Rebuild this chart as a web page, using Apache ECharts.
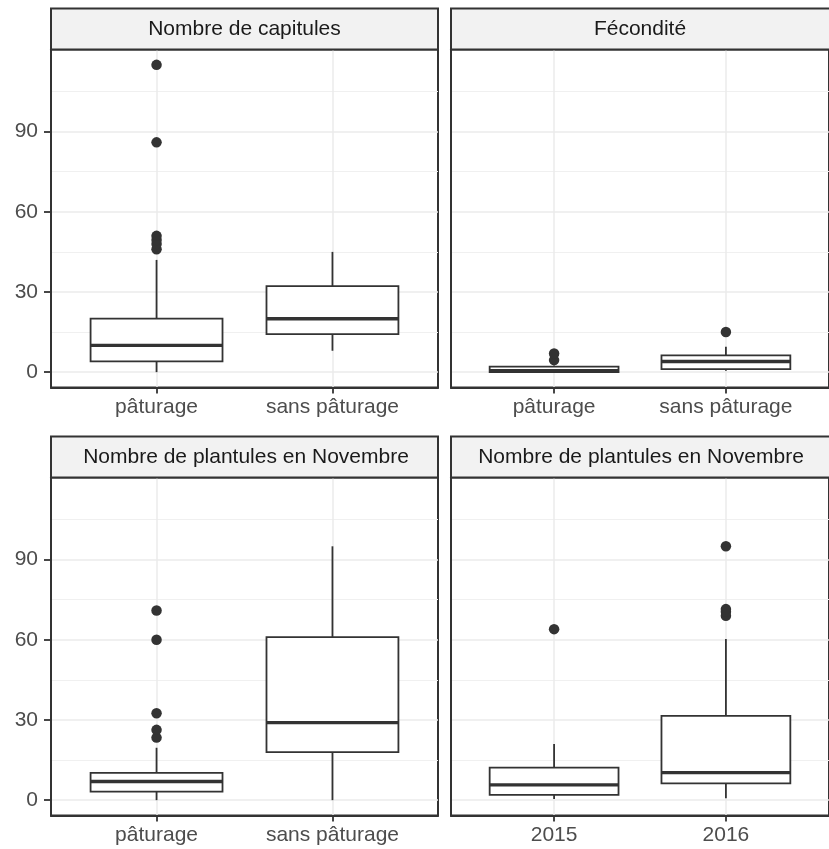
<!DOCTYPE html>
<html>
<head>
<meta charset="utf-8">
<script src="https://cdn.jsdelivr.net/npm/echarts@6/dist/echarts.min.js"></script>
<style>html,body{margin:0;padding:0;background:#fff;}#c{width:829px;height:849px;}</style>
</head>
<body>
<div id="c"></div>
<script>
// ---- data ----
const panelTitles = ['Nombre de capitules', 'Fécondité', 'Nombre de plantules en Novembre', 'Nombre de plantules en Novembre'];
const catsGrazing = ['pâturage', 'sans pâturage'];
const catsYear = ['2015', '2016'];
// box stats: [lower whisker, Q1, median, Q3, upper whisker]
const capitulesBox = [[0, 4, 10, 20, 42], [8, 14.2, 20, 32.2, 45]];
const capitulesOut = [[46, 48, 49.5, 51, 86, 115], []];
const fecondBox = [[0, 0, 0.5, 2.1, 2.5], [0.5, 1.1, 4, 6.3, 9.5]];
const fecondOut = [[4.5, 7], [15]];
const plantGrazBox = [[0, 3.2, 7, 10.2, 19.6], [0, 18, 29, 61, 95]];
const plantGrazOut = [[23.4, 26.3, 32.5, 60, 71], []];
const plantYearBox = [[0.4, 2, 5.7, 12.2, 21], [0.7, 6.3, 10.3, 31.5, 60.3]];
const plantYearOut = [[64], [69, 70.5, 71.5, 95]];
const yTicks = [0, 30, 60, 90];
const yMinor = [15, 45, 75, 105];
const xTicks = [0, 1];

// ---- layout ----
const FONT = 'Liberation Sans, Arial, sans-serif';
const FS = 21;
const panels = [
  { left: 51, top: 49.5, cats: catsGrazing, box: capitulesBox, out: capitulesOut, showY: true, tx: 244.5 },
  { left: 451, top: 49.5, cats: catsGrazing, box: fecondBox, out: fecondOut, showY: false, tx: 640 },
  { left: 51, top: 477.5, cats: catsGrazing, box: plantGrazBox, out: plantGrazOut, showY: true, tx: 246 },
  { left: 451, top: 477.5, cats: catsYear, box: plantYearBox, out: plantYearOut, showY: false, tx: 641 }
];
const PW = 387, PH = 338, STRIP = 41;

const grids = [], xAxes = [], yAxes = [], series = [], graphics = [];

function renderBox(params, api) {
  const x = api.value(0);
  const lo = api.coord([x, api.value(1)]);
  const q1 = api.coord([x, api.value(2)]);
  const md = api.coord([x, api.value(3)]);
  const q3 = api.coord([x, api.value(4)]);
  const hi = api.coord([x, api.value(5)]);
  const hw = api.size([0.75, 0])[0] / 2;
  const ls = { stroke: '#333', lineWidth: 1.8 };
  return {
    type: 'group',
    children: [
      { type: 'line', shape: { x1: lo[0], y1: lo[1], x2: q1[0], y2: q1[1] }, style: ls },
      { type: 'line', shape: { x1: q3[0], y1: q3[1], x2: hi[0], y2: hi[1] }, style: ls },
      { type: 'rect', shape: { x: q3[0] - hw, y: q3[1], width: 2 * hw, height: q1[1] - q3[1] },
        style: { fill: '#fff', stroke: '#333', lineWidth: 1.8 } },
      { type: 'line', shape: { x1: md[0] - hw, y1: md[1], x2: md[0] + hw, y2: md[1] },
        style: { stroke: '#333', lineWidth: 3.4 } }
    ]
  };
}

panels.forEach((p, i) => {
  grids.push({ left: p.left, top: p.top, width: PW, height: PH, show: true,
    borderColor: '#333', borderWidth: 2, backgroundColor: '#fff', containLabel: false });
  const cats = p.cats;
  xAxes.push({
    type: 'value', gridIndex: i, min: -0.6, max: 1.6, position: 'bottom',
    axisLine: { show: true, onZero: false, lineStyle: { color: '#333', width: 2 } },
    axisTick: { show: true, inside: false, customValues: xTicks, length: 6, lineStyle: { color: '#333', width: 1.8 } },
    axisLabel: { show: true, customValues: xTicks, margin: 9, color: '#4D4D4D', fontSize: FS, fontFamily: FONT,
      formatter: v => cats[Math.round(v)] },
    splitLine: { show: true, lineStyle: { color: '#EBEBEB', width: 1.5 } }
  });
  yAxes.push({
    type: 'value', gridIndex: i, min: -5.75, max: 120.75, position: 'left',
    axisLine: { show: true, onZero: false, lineStyle: { color: '#333', width: 2 } },
    axisTick: { show: p.showY, inside: false, customValues: yTicks, length: 7, lineStyle: { color: '#333', width: 1.8 } },
    axisLabel: { show: p.showY, customValues: yTicks, margin: 13, color: '#4D4D4D', fontSize: FS, fontFamily: FONT },
    splitLine: { show: true, lineStyle: { color: '#EBEBEB', width: 1.5 } }
  });
  yAxes.push({
    type: 'value', gridIndex: i, min: -5.75, max: 120.75, position: 'right',
    axisLine: { show: false, onZero: false },
    axisTick: { show: false, customValues: yMinor },
    axisLabel: { show: false, customValues: yMinor },
    splitLine: { show: true, lineStyle: { color: '#F0F0F0', width: 1 } }
  });
  series.push({
    type: 'custom', xAxisIndex: i, yAxisIndex: 2 * i,
    renderItem: renderBox,
    encode: { x: 0, y: [1, 2, 3, 4, 5] },
    data: p.box.map((b, k) => [k].concat(b)),
    z: 3, silent: true
  });
  const pts = [];
  p.out.forEach((arr, k) => arr.forEach(v => pts.push([k, v])));
  series.push({
    type: 'scatter', xAxisIndex: i, yAxisIndex: 2 * i,
    data: pts, symbolSize: 10.5, itemStyle: { color: '#333', opacity: 1 },
    z: 4, silent: true
  });
  const sy = p.top - STRIP;
  graphics.push({
    type: 'rect', shape: { x: p.left, y: sy, width: PW, height: STRIP },
    style: { fill: '#F2F2F2', stroke: '#333', lineWidth: 2 }, z: 10
  });
  graphics.push({
    type: 'text', x: p.tx, y: sy + STRIP / 2 + 0.5,
    style: { text: panelTitles[i], fill: '#1A1A1A', fontSize: FS, fontFamily: FONT,
      align: 'center', verticalAlign: 'middle', textAlign: 'center', textVerticalAlign: 'middle' },
    z: 11
  });
});

const chart = echarts.init(document.getElementById('c'), null, { renderer: 'canvas' });
chart.setOption({
  animation: false,
  backgroundColor: '#fff',
  grid: grids,
  xAxis: xAxes,
  yAxis: yAxes,
  series: series,
  graphic: graphics
});
</script>
</body>
</html>
